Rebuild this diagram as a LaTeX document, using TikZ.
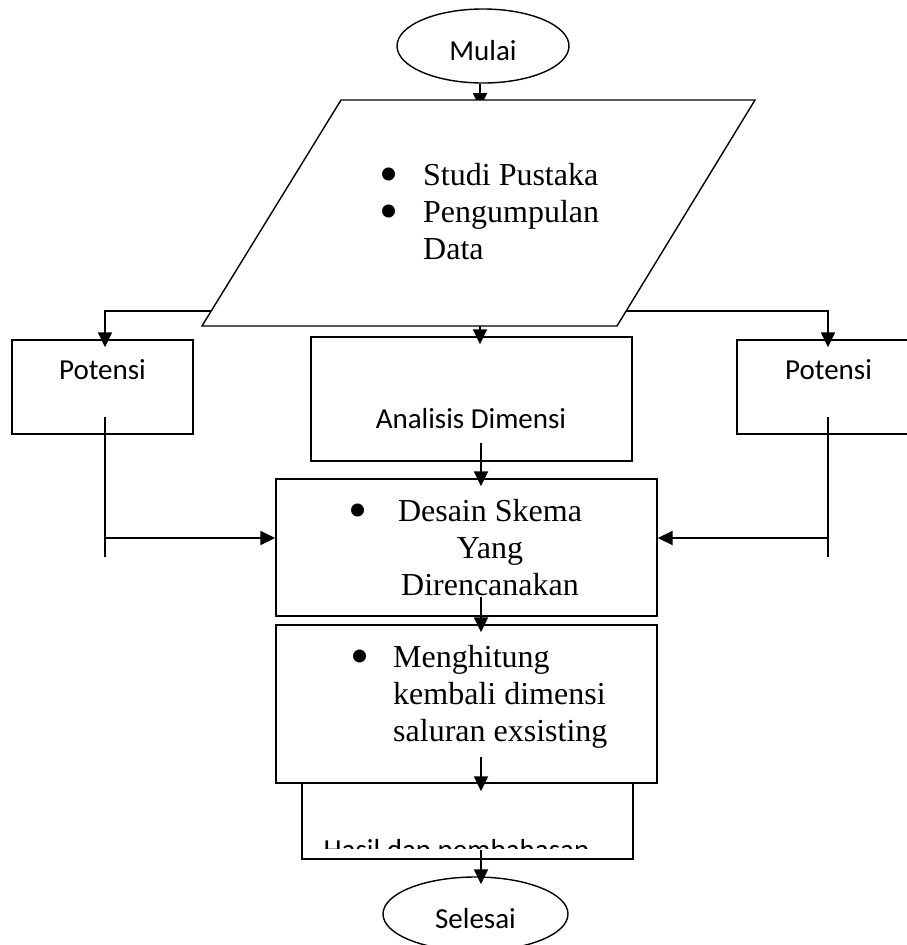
\documentclass[tikz,border=0pt]{standalone}
\usepackage{fontspec}
\usepackage{graphicx}
\setmainfont{Liberation Serif}
\newfontfamily\calibri{Carlito}
\usetikzlibrary{arrows.meta,shapes.geometric}
\newcommand{\flowbullet}{\smash{\raisebox{-7pt}{\scalebox{1.7}{\textbullet}}}}
\tikzstyle{conn} = [line width=1.8pt]
\tikzstyle{arrow} = [conn,-{Triangle[length=15pt,width=14pt]}]
\tikzstyle{arrowin} = [arrow,shorten >=-8pt]
\tikzstyle{box} = [draw,line width=1.4pt,inner sep=0pt]
\tikzstyle{sans} = [font=\calibri\fontsize{29}{35}\selectfont,inner sep=0pt]
\tikzstyle{serif} = [font=\fontsize{32}{37}\selectfont,inner sep=0pt]
\tikzstyle{oval} = [box,ellipse,sans,text height=28pt,text depth=0pt]

\begin{document}
\begin{tikzpicture}[x=1pt,y=-1pt]
    \clip (0,0) rectangle (907,945);
    % start
    \node[oval,minimum width=172pt,minimum height=74pt] (mulai) at (483,46) {Mulai};
    \coordinate (dT) at (480,100);
    \draw[arrowin] (mulai.south -| dT) -- (dT);
    % input data
    \draw[line width=1.4pt,fill=white] (341,100) coordinate (dTL) -- (755,100) coordinate (dTR)
        -- (617,326) coordinate (dBR) -- (202,326) coordinate (dBL) -- cycle;
    \coordinate (dB) at (480,326);
    \coordinate (dL) at (211,311);
    \coordinate (dR) at (626,311);
    \node[serif,anchor=north west,align=left] (data) at (379,163)
        {\makebox[44pt][l]{\flowbullet}Studi Pustaka\\
         \makebox[44pt][l]{\flowbullet}Pengumpulan\\
         \hspace*{44pt}Data};
    % boxes
    \node[box,minimum width=181pt,minimum height=94pt] (potL) at (102.5,387) {};
    \node[sans,anchor=base] (potLtext) at (102.5,379) {Potensi};
    \node[box,minimum width=188pt,minimum height=94pt] (potR) at (831,387) {};
    \node[sans,anchor=base] (potRtext) at (828.5,379) {Potensi};
    \node[box,minimum width=321pt,minimum height=124pt] (analisis) at (471.5,399) {};
    \node[sans,anchor=base] (analisistext) at (471,428) {Analisis Dimensi};
    \node[box,minimum width=381pt,minimum height=137pt] (desain) at (466.5,547.5) {};
    \node[serif,anchor=north,align=center] (desaintext) at (490,499)
        {\llap{\flowbullet\hspace{30pt}}Desain Skema\\Yang\\Direncanakan};
    \node[box,minimum width=381pt,minimum height=158pt] (hitung) at (466.5,704) {};
    \node[serif,anchor=north west,align=left] (hitungtext) at (350,645)
        {\makebox[43pt][l]{\flowbullet}Menghitung\\
         \hspace*{43pt}kembali dimensi\\
         \hspace*{43pt}saluran exsisting};
    \node[box,minimum width=331pt,minimum height=76pt] (hasil) at (467.5,821) {};
    \begin{scope}
        \clip (302,783) rectangle (633,848);
        \node[sans,anchor=base] (hasiltext) at (456.5,859) {Hasil dan pembahasan};
    \end{scope}
    % end
    \node[oval,minimum width=185pt,minimum height=74pt] (selesai) at (475.5,914) {Selesai};
    % main flow
    \coordinate (a1) at (481,443);
    \coordinate (d1) at (481,597);
    \coordinate (m1) at (481,757);
    \coordinate (h1) at (481,850);
    \draw[arrowin] (dB) -- (dB |- analisis.north);
    \draw[arrowin] (a1) -- (a1 |- desain.north);
    \draw[arrowin] (d1) -- (d1 |- hitung.north);
    \draw[arrow,shorten >=-9pt] (m1) -- (m1 |- hasil.north);
    \draw[arrowin] (h1) -- (h1 |- selesai.north);
    % side branches
    \coordinate (lTop) at (105,417);
    \coordinate (lMid) at (105,538);
    \coordinate (lBot) at (105,557);
    \coordinate (rTop) at (828,417);
    \coordinate (rMid) at (828,538);
    \coordinate (rBot) at (828,557);
    \draw[arrowin] (dL) -- (dL -| lTop) -- (lTop |- potL.north);
    \draw[arrowin] (dR) -- (dR -| rTop) -- (rTop |- potR.north);
    \draw[conn] (lTop) -- (lBot);
    \draw[conn] (rTop) -- (rBot);
    \draw[arrow] (lMid) -- (lMid -| desain.west);
    \draw[arrow] (rMid) -- (rMid -| desain.east);
\end{tikzpicture}
\end{document}
